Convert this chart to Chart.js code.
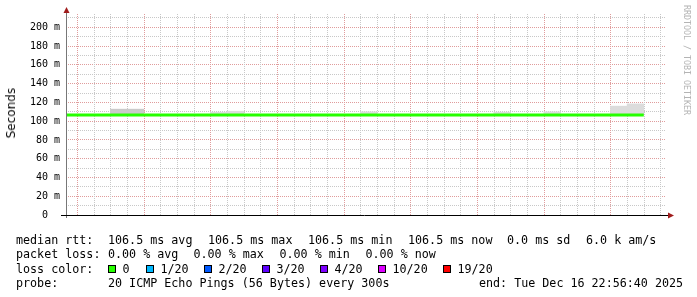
<!DOCTYPE html>
<html>
<head>
<meta charset="utf-8">
<script src="https://cdn.jsdelivr.net/npm/chart.js@4.4.1/dist/chart.umd.min.js"></script>
<style>
    html, body { margin: 0; padding: 0; background: #fff; }
    #wrap { position: relative; width: 697px; height: 297px; overflow: hidden; background: #fff; }
    #chart { position: absolute; left: 0; top: 0; }
    .t {
        position: absolute;
        font-family: "DejaVu Sans Mono", monospace;
        font-size: 11.7px;
        line-height: 14px;
        white-space: pre;
        color: #000;
    }
    .box { position: absolute; width: 6px; height: 6px; border: 1px solid #000; top: 265px; }
    #ytitle {
        position: absolute; left: 4px; top: 88px;
        font-family: "DejaVu Sans", sans-serif; font-size: 12px; line-height: 14px;
        writing-mode: vertical-rl; transform: rotate(180deg);
    }
    #credit {
        position: absolute; left: 682px; top: 5px;
        font-family: "DejaVu Sans Mono", monospace; font-size: 8.3px; line-height: 9px;
        writing-mode: vertical-rl; color: #b4b4b4;
    }
</style>
</head>
<body>
<div id="wrap">
    <canvas id="chart" width="697" height="297"></canvas>
    <div id="ytitle">Seconds</div>
    <div id="credit">RRDTOOL / TOBI OETIKER</div>
    <div id="legend"></div>
</div>
<script>
// 5 minute steps, start time of each step
const stepStarts = [
    '19:55', '20:00', '20:05', '20:10', '20:15', '20:20', '20:25', '20:30', '20:35', '20:40', '20:45', '20:50', '20:55',
    '21:00', '21:05', '21:10', '21:15', '21:20', '21:25', '21:30', '21:35', '21:40', '21:45', '21:50', '21:55',
    '22:00', '22:05', '22:10', '22:15', '22:20', '22:25', '22:30', '22:35', '22:40', '22:45'
];
// median rtt in ms
const medianRtt = [
    106.5, 106.5, 106.5, 106.5, 106.5, 106.5, 106.5, 106.5, 106.5, 106.5, 106.5, 106.5, 106.5,
    106.5, 106.5, 106.5, 106.5, 106.5, 106.5, 106.5, 106.5, 106.5, 106.5, 106.5, 106.5,
    106.5, 106.5, 106.5, 106.5, 106.5, 106.5, 106.5, 106.5, 106.5, 106.5
];
// top of the smoke (slowest pings) per step, null = no visible smoke
const smokeTop = [
    null, null, null, 112.8, 112.8, null, null, null, null, 109.6, 110.6, null, null,
    null, null, null, null, null, 110.0, null, null, null, null, null, null,
    null, 109.6, null, null, 110.0, null, null, null, 116.0, 118.4
];
const smokeLow = 106.5;

const yMax = 214.2;
const timeMin = -10 / 3;      // 19:56:40, minutes relative to 20:00
const timeMax = 176 + 2 / 3;  // 22:56:40

const lossLabels = ['0', '1/20', '2/20', '3/20', '4/20', '10/20', '19/20'];
const lossColors = ['#26ff00', '#00b8ff', '#0059ff', '#5e00ff', '#7e00ff', '#dd00ff', '#ff0000'];

const statsRtt = ['106.5 ms avg', '106.5 ms max', '106.5 ms min', '106.5 ms now', '0.0 ms sd', '6.0 k am/s'];
const statsLoss = ['0.00 % avg', '0.00 % max', '0.00 % min', '0.00 % now'];
const probeText = '20 ICMP Echo Pings (56 Bytes) every 300s';
const endText = 'end: Tue Dec 16 22:56:40 2025';

function toMin(hhmm) {
    const [h, m] = hhmm.split(':').map(Number);
    return (h - 20) * 60 + m;
}

function fmtTime(v) {
    const total = 20 * 60 + v;
    const h = Math.floor(total / 60);
    const m = total % 60;
    return String(h).padStart(2, '0') + ':' + String(m).padStart(2, '0');
}

const medianPoints = stepStarts.map((s, i) => ({x: toMin(s), y: medianRtt[i]}));
medianPoints.push({x: toMin(stepStarts[stepStarts.length - 1]) + 5, y: medianRtt[medianRtt.length - 1]});

const smokePoints = stepStarts
    .map((s, i) => smokeTop[i] == null ? null : {x: toMin(s) + 2.5, y: [smokeLow, smokeTop[i]]})
    .filter(p => p);

const minorGrid = '#c8c8c8';
const majorGrid = '#e09c9c';

// vertical time grid, every 5 min, red every 20 min
const timeGrid = {
    id: 'timeGrid',
    beforeDatasetsDraw(chart) {
        const {ctx, chartArea: a, scales: {x}} = chart;
        ctx.save();
        ctx.lineWidth = 1;
        ctx.setLineDash([1, 1]);
        for (let v = 0; v <= 175; v += 5) {
            const px = Math.round(x.getPixelForValue(v)) + 0.5;
            ctx.strokeStyle = v % 20 === 0 ? majorGrid : minorGrid;
            ctx.beginPath();
            ctx.moveTo(px, a.top);
            ctx.lineTo(px, a.bottom);
            ctx.stroke();
        }
        ctx.restore();
    }
};

const axisArrows = {
    id: 'axisArrows',
    afterDraw(chart) {
        const {ctx, chartArea: a} = chart;
        ctx.save();
        ctx.lineWidth = 1;
        ctx.strokeStyle = '#777';
        ctx.beginPath();
        ctx.moveTo(a.left + 0.5, a.top - 1);
        ctx.lineTo(a.left + 0.5, a.bottom + 3);
        ctx.stroke();
        ctx.strokeStyle = '#000';
        ctx.beginPath();
        ctx.moveTo(a.left - 5, a.bottom + 0.5);
        ctx.lineTo(a.right + 2, a.bottom + 0.5);
        ctx.stroke();

        ctx.fillStyle = '#a01c1c';
        ctx.beginPath();
        ctx.moveTo(a.right + 2, a.bottom - 2.5);
        ctx.lineTo(a.right + 8, a.bottom + 0.5);
        ctx.lineTo(a.right + 2, a.bottom + 3.5);
        ctx.closePath();
        ctx.fill();
        ctx.beginPath();
        ctx.moveTo(a.left - 2.5, a.top - 1);
        ctx.lineTo(a.left + 0.5, a.top - 7);
        ctx.lineTo(a.left + 3.5, a.top - 1);
        ctx.closePath();
        ctx.fill();
        ctx.restore();
    }
};

new Chart(document.getElementById('chart'), {
    type: 'line',
    data: {
        datasets: [
            {
                type: 'line',
                data: medianPoints,
                borderColor: '#26ff00',
                borderWidth: 3,
                borderCapStyle: 'butt',
                pointRadius: 0,
                stepped: 'after',
                clip: 0,
                order: 0
            },
            {
                type: 'bar',
                data: smokePoints,
                backgroundColor: ctx => {
                    const spread = ctx.raw.y[1] - ctx.raw.y[0];
                    return spread >= 5 && spread < 8 ? '#cacaca' : '#dcdcdc';
                },
                borderWidth: 0,
                barThickness: 50 / 3,
                grouped: false,
                order: 1
            }
        ]
    },
    options: {
        responsive: false,
        animation: false,
        events: [],
        layout: {padding: {left: 0, right: 31, top: 14, bottom: 0}},
        plugins: {legend: {display: false}, tooltip: {enabled: false}},
        scales: {
            x: {
                type: 'linear',
                min: timeMin,
                max: timeMax,
                offset: false,
                afterFit: s => { s.height = 82; },
                afterBuildTicks: s => { s.ticks = s.ticks.filter(t => t.value >= 0 && t.value <= 175); },
                ticks: {
                    stepSize: 5,
                    includeBounds: false,
                    autoSkip: false,
                    maxRotation: 0,
                    padding: 4,
                    color: '#000',
                    font: {family: 'DejaVu Sans Mono', size: 10},
                    callback: v => v % 20 === 0 ? fmtTime(v) : ''
                },
                grid: {display: false, offset: false},
                border: {display: false}
            },
            y: {
                min: 0,
                max: yMax,
                afterFit: s => { s.width = 66; },
                ticks: {
                    stepSize: 10,
                    includeBounds: false,
                    autoSkip: false,
                    padding: 6,
                    color: '#000',
                    font: {family: 'DejaVu Sans Mono', size: 10},
                    callback: v => v % 20 !== 0 ? '' : (v === 0 ? '0  ' : v + ' m')
                },
                grid: {
                    drawTicks: false,
                    color: ctx => ctx.tick && ctx.tick.value % 20 === 0 ? majorGrid : minorGrid,
                    lineWidth: ctx => ctx.tick && ctx.tick.value === 0 ? 0 : 1
                },
                border: {display: false, dash: [1, 1]}
            }
        }
    },
    plugins: [timeGrid, axisArrows]
});

// text legend below the graph
const legend = document.getElementById('legend');
function put(text, x, y) {
    const d = document.createElement('div');
    d.className = 't';
    d.style.left = x + 'px';
    d.style.top = y + 'px';
    d.textContent = text;
    legend.appendChild(d);
    return d;
}

const rowTop = [233, 247.3, 261.5, 275.7];
put('median rtt:', 16, rowTop[0]);
[108, 208, 308, 408, 507, 586].forEach((x, i) => put(statsRtt[i], x, rowTop[0]));
put('packet loss:', 16, rowTop[1]);
[108, 193.5, 279.5, 365.5].forEach((x, i) => put(statsLoss[i], x, rowTop[1]));
put('loss color:', 16, rowTop[2]);
[108, 146, 204, 262, 320, 378, 443].forEach((x, i) => {
    const b = document.createElement('div');
    b.className = 'box';
    b.style.left = x + 'px';
    b.style.background = lossColors[i];
    legend.appendChild(b);
    put(lossLabels[i], x + 14.5, rowTop[2]);
});
put('probe:', 16, rowTop[3]);
put(probeText, 108, rowTop[3]);
put(endText, 479, rowTop[3]);
</script>
</body>
</html>
